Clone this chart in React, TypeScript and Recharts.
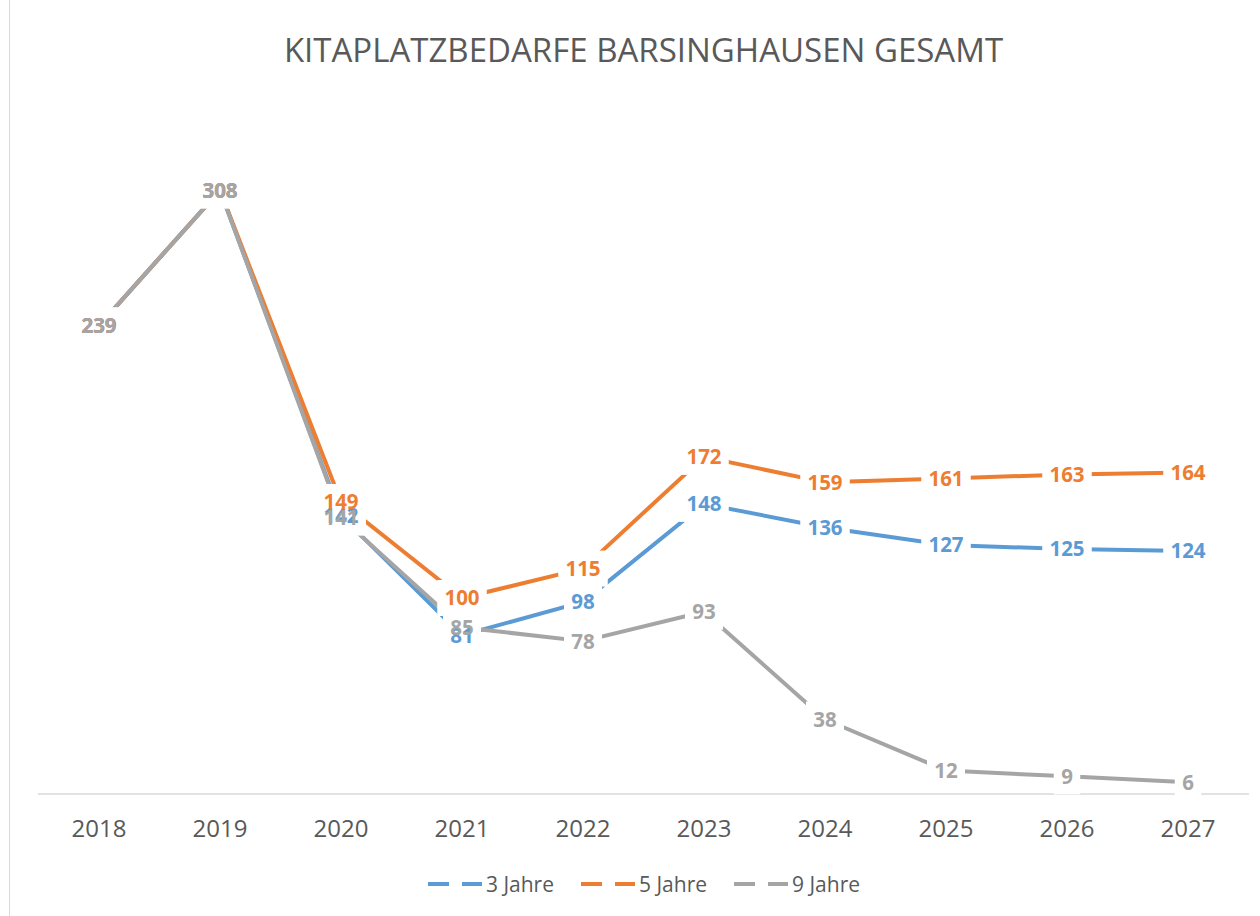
import { LineChart, Line, XAxis, YAxis, LabelList } from "recharts";

const years = ["2018", "2019", "2020", "2021", "2022", "2023", "2024", "2025", "2026", "2027"];
const jahre3 = [239, 308, 142, 81, 98, 148, 136, 127, 125, 124];
const jahre5 = [239, 308, 149, 100, 115, 172, 159, 161, 163, 164];
const jahre9 = [239, 308, 141, 85, 78, 93, 38, 12, 9, 6];

const series = [
  { key: "j3", name: "3 Jahre", color: "#5B9BD5" },
  { key: "j5", name: "5 Jahre", color: "#ED7D31" },
  { key: "j9", name: "9 Jahre", color: "#A5A5A5" },
];

const data = years.map((year, i) => ({
  year,
  j3: jahre3[i],
  j5: jahre5[i],
  j9: jahre9[i],
}));

const FONT = "'Open Sans', sans-serif";
const TEXT = "#595959";

// white label box (Excel style), drawn before any label text
const boxLabel = (props: any) => {
  const { x, y, value } = props;
  if (x == null || y == null) return null;
  const w = String(value).length * 11.5 + 15;
  const h = 36;
  return <rect x={x - w / 2} y={y - h / 2} width={w} height={h} fill="#fff" />;
};

const textLabel = (color: string) => (props: any) => {
  const { x, y, value } = props;
  if (x == null || y == null) return null;
  return (
    <text
      x={x}
      y={y}
      dy="0.36em"
      textAnchor="middle"
      fill={color}
      fontSize={20.5}
      fontWeight={700}
      fontFamily={FONT}
    >
      {value}
    </text>
  );
};

export default function App() {
  return (
    <div
      style={{
        position: "absolute",
        left: 0,
        top: 0,
        width: 1260,
        height: 916,
        background: "#fff",
        fontFamily: FONT,
      }}
    >
      <div style={{ position: "absolute", left: 9, top: 0, width: 1, height: 916, background: "#d9d9d9" }} />
      <div
        style={{
          position: "absolute",
          left: 38,
          width: 1211,
          top: 28,
          textAlign: "center",
          fontSize: 33,
          color: TEXT,
          lineHeight: "44px",
        }}
      >
        KITAPLATZBEDARFE BARSINGHAUSEN GESAMT
      </div>

      <LineChart
        width={1260}
        height={916}
        data={data}
        margin={{ top: 108, right: 11, bottom: 72, left: 38 }}
      >
        <XAxis
          dataKey="year"
          height={50}
          padding={{ left: 61, right: 61 }}
          axisLine={{ stroke: "#d9d9d9", strokeWidth: 1.5 }}
          tickLine={false}
          tickSize={8}
          tickMargin={18}
          tick={{ fontSize: 24, fill: TEXT, fontFamily: FONT }}
        />
        <YAxis hide domain={[0, 350]} />

        {series.map((s) => (
          <Line
            key={s.key}
            dataKey={s.key}
            name={s.name}
            stroke={s.color}
            strokeWidth={4}
            strokeLinecap="round"
            strokeLinejoin="round"
            dot={false}
            activeDot={false}
            isAnimationActive={false}
          />
        ))}

        {series.map((s) => (
          <Line
            key={`box-${s.key}`}
            dataKey={s.key}
            stroke="none"
            dot={false}
            activeDot={false}
            legendType="none"
            isAnimationActive={false}
          >
            <LabelList dataKey={s.key} content={boxLabel} />
          </Line>
        ))}

        {series.map((s) => (
          <Line
            key={`txt-${s.key}`}
            dataKey={s.key}
            stroke="none"
            dot={false}
            activeDot={false}
            legendType="none"
            isAnimationActive={false}
          >
            <LabelList dataKey={s.key} content={textLabel(s.color)} />
          </Line>
        ))}
      </LineChart>

      <div
        style={{
          position: "absolute",
          left: 38,
          width: 1211,
          top: 869,
          display: "flex",
          justifyContent: "center",
          gap: 26,
          fontSize: 21,
          color: TEXT,
          lineHeight: "30px",
        }}
      >
        {series.map((s) => (
          <div key={s.key} style={{ display: "flex", alignItems: "center", gap: 3 }}>
            <svg width={56} height={8}>
              <line x1={1} y1={4} x2={55} y2={4} stroke={s.color} strokeWidth={4} strokeDasharray="21 13" />
            </svg>
            <span>{s.name}</span>
          </div>
        ))}
      </div>
    </div>
  );
}
